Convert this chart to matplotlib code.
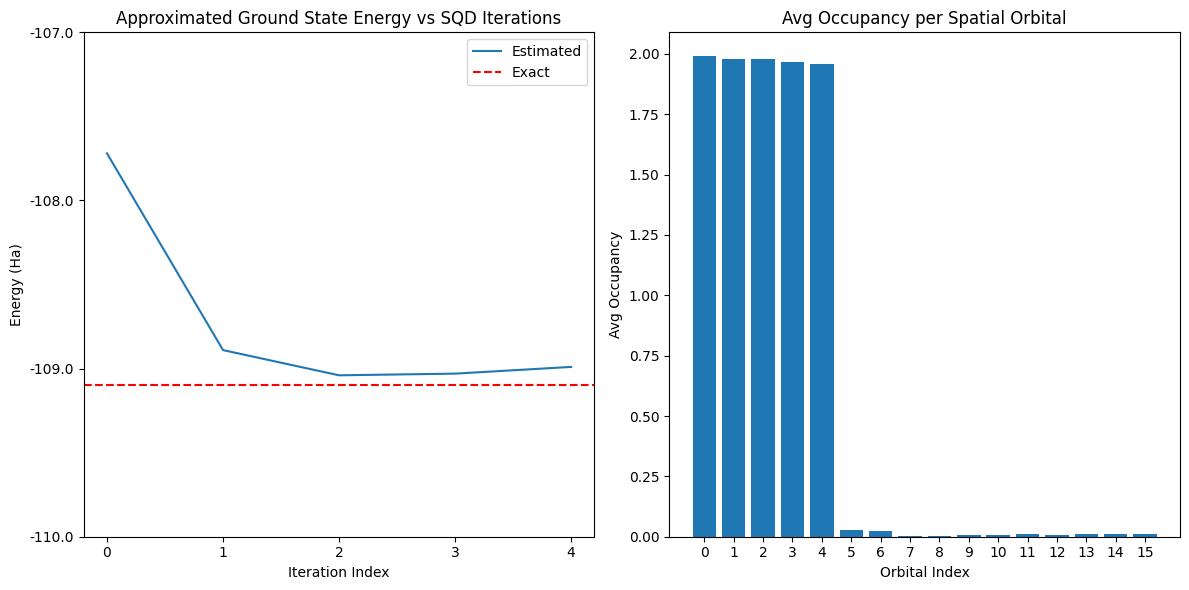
import matplotlib
matplotlib.use("Agg")
import matplotlib.pyplot as plt
from matplotlib.ticker import FormatStrFormatter

# SQD iteration energies
iterations = [0, 1, 2, 3, 4]
energies = [-107.72, -108.89, -109.04, -109.03, -108.99]
exact_energy = -109.10

# average occupancy per spatial orbital
orbitals = list(range(16))
occupancy = [1.99, 1.98, 1.98, 1.965, 1.96, 0.029, 0.025, 0.004, 0.004,
             0.008, 0.008, 0.012, 0.008, 0.012, 0.012, 0.012]

fig, (ax1, ax2) = plt.subplots(1, 2, figsize=(12, 6), dpi=100)

ax1.plot(iterations, energies, label="Estimated")
ax1.axhline(exact_energy, color="red", linestyle="--", label="Exact")
ax1.set_ylim(-110, -107)
ax1.set_yticks([-110, -109, -108, -107])
ax1.yaxis.set_major_formatter(FormatStrFormatter("%.1f"))
ax1.set_xticks(iterations)
ax1.set_xlabel("Iteration Index")
ax1.set_ylabel("Energy (Ha)")
ax1.set_title("Approximated Ground State Energy vs SQD Iterations")
ax1.legend()

ax2.bar(orbitals, occupancy)
ax2.set_xticks(orbitals)
ax2.set_xlabel("Orbital Index")
ax2.set_ylabel("Avg Occupancy")
ax2.set_title("Avg Occupancy per Spatial Orbital")

plt.tight_layout()
plt.savefig("out.png", dpi=100, bbox_inches="tight")
plt.close()
